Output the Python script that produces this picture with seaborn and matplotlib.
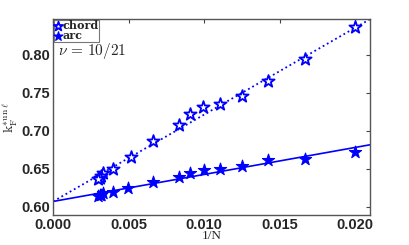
import numpy as np
import pandas as pd
import matplotlib
matplotlib.use('Agg')
import matplotlib.pyplot as plt
import seaborn as sns
from matplotlib.ticker import FormatStrFormatter

# values
chord_x = [0.0200, 0.0167, 0.01424, 0.0125, 0.01106, 0.00995, 0.00907, 0.00834,
           0.00662, 0.00517, 0.00397, 0.00333, 0.0032, 0.0031, 0.0030]
chord_y = [0.836, 0.794, 0.765, 0.746, 0.735, 0.731, 0.722, 0.707,
           0.686, 0.665, 0.650, 0.644, 0.641, 0.638, 0.637]
arc_x = [0.0200, 0.0167, 0.01424, 0.0125, 0.01106, 0.0100, 0.00907, 0.00834,
         0.00662, 0.00497, 0.00397, 0.00333, 0.0032, 0.0031, 0.0030]
arc_y = [0.672, 0.663, 0.661, 0.654, 0.650, 0.648, 0.645, 0.639,
         0.633, 0.625, 0.620, 0.618, 0.616, 0.615, 0.614]

# linear fits, drawn across the full x range
fit_x = [0.0, 0.021]
chord_fit = [0.607, 0.847]
arc_fit = [0.607, 0.6816]

sns.set_style('white')
plt.rcParams['font.family'] = ['Liberation Sans', 'DejaVu Sans']
plt.rcParams['mathtext.fontset'] = 'cm'

fig = plt.figure(figsize=(4.09, 2.45), dpi=100)
ax = fig.add_axes([0.13, 0.122, 0.775, 0.800])

blue = (0, 0, 1)
sns.lineplot(x=fit_x, y=chord_fit, ax=ax, color=blue, linestyle=':', linewidth=1.3)
sns.lineplot(x=fit_x, y=arc_fit, ax=ax, color=blue, linestyle='-', linewidth=1.2)

chord = pd.DataFrame({'x': chord_x, 'y': chord_y})
arc = pd.DataFrame({'x': arc_x, 'y': arc_y})
sns.scatterplot(data=chord, x='x', y='y', ax=ax, marker='*', s=85,
                facecolor='white', edgecolor=blue, linewidth=1.3, label='chord', zorder=3)
sns.scatterplot(data=arc, x='x', y='y', ax=ax, marker='*', s=85,
                color=blue, edgecolor=blue, linewidth=0.8, label='arc', zorder=3)

ax.set_xlim(0, 0.021)
ax.set_ylim(0.589, 0.847)
ax.set_xticks([0.0, 0.005, 0.010, 0.015, 0.020])
ax.set_yticks([0.60, 0.65, 0.70, 0.75, 0.80])
ax.xaxis.set_major_formatter(FormatStrFormatter('%.3f'))
ax.yaxis.set_major_formatter(FormatStrFormatter('%.2f'))
ax.tick_params(direction='in', length=3, width=0.8, color='#444444',
               top=True, right=True, labelsize=10.5, pad=2)
for lab in ax.get_xticklabels() + ax.get_yticklabels():
    lab.set_fontweight('bold')
for sp in ax.spines.values():
    sp.set_color('#555555')
    sp.set_linewidth(1.0)

ax.set_xlabel('1/N', fontsize=9.5, family='Liberation Serif')
ax.xaxis.set_label_coords(0.5, -0.078)
ax.set_ylabel(r'$\mathrm{k}_{\mathrm{F}}^{*\mathrm{un}\,\ell}$', fontsize=10, labelpad=1)

leg = ax.legend(loc='upper left', handlelength=0.6, handletextpad=0.1,
                labelspacing=-0.1, borderpad=0.05, borderaxespad=0.05,
                frameon=True, fancybox=False, markerscale=0.75,
                prop={'family': 'serif', 'weight': 'bold', 'size': 8})
leg.get_frame().set_edgecolor('#555555')
leg.get_frame().set_linewidth(0.8)

ax.text(0.015, 0.835, r'$\nu\,=\,10/21$', transform=ax.transAxes, fontsize=11,
        ha='left', va='center')

fig.savefig('out.png', dpi=100)
